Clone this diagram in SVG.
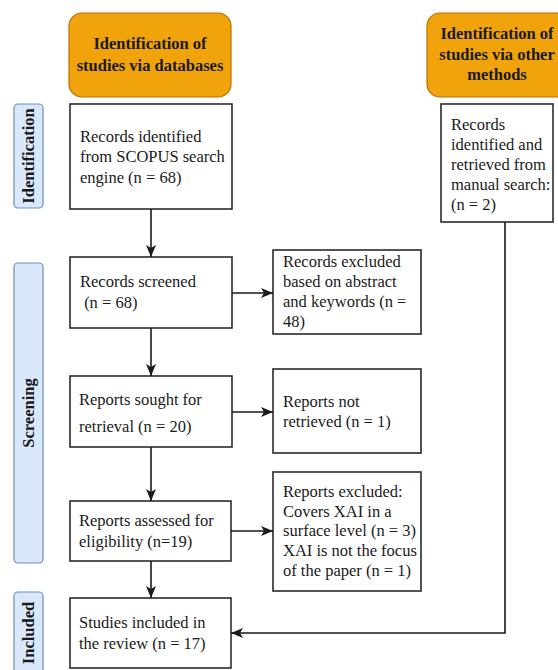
<svg xmlns="http://www.w3.org/2000/svg" width="558" height="670" viewBox="0 0 558 670">
<defs>
<style>
.hdr{fill:#F0A30A;stroke:#BD7000;stroke-width:1.2}
.lbl{fill:#DAE8FC;stroke:#6C8EBF;stroke-width:1.2}
.box{fill:#FFFFFF;stroke:#2B2B2B;stroke-width:1.6}
text{font-family:'Liberation Serif','Times New Roman','DejaVu Serif',serif;font-size:16.5px;fill:#1a1a1a}
.b{font-weight:bold}
.c{fill:none;stroke:#1a1a1a;stroke-width:1.6}
</style>
<marker id="arr" viewBox="0 0 12 10" refX="12" refY="5" markerWidth="12" markerHeight="10" markerUnits="userSpaceOnUse" orient="auto">
<path d="M0,0 L12,5 L0,10 L3,5 Z" fill="#1a1a1a"/>
</marker>
</defs>
<rect width="558" height="670" fill="#FFFFFF"/>

<g id="hdr-db">
<rect class="hdr" x="69" y="13" width="162" height="84" rx="13"/>
<text class="b" x="150" y="49" text-anchor="middle" font-family="Liberation Serif, serif">Identification of</text>
<text class="b" x="150" y="71" text-anchor="middle" font-family="Liberation Serif, serif">studies via databases</text>
</g>
<g id="hdr-other">
<rect class="hdr" x="427" y="13" width="142" height="84" rx="13"/>
<text class="b" x="497" y="39" text-anchor="middle">Identification of</text>
<text class="b" x="497" y="60" text-anchor="middle">studies via other</text>
<text class="b" x="497" y="80" text-anchor="middle">methods</text>
</g>

<g id="lbl-identification">
<rect class="lbl" x="14" y="104" width="29" height="104" rx="4"/>
<text class="b" transform="translate(34,156) rotate(-90)" text-anchor="middle">Identification</text>
</g>
<g id="lbl-screening">
<rect class="lbl" x="14" y="263" width="29" height="300" rx="4"/>
<text class="b" transform="translate(34,413) rotate(-90)" text-anchor="middle">Screening</text>
</g>
<g id="lbl-included">
<rect class="lbl" x="14" y="592" width="29" height="90" rx="4"/>
<text class="b" transform="translate(34,633) rotate(-90)" text-anchor="middle">Included</text>
</g>

<g id="n-records-identified">
<rect class="box" x="70" y="104" width="162" height="105"/>
<text x="80" y="142">Records identified</text>
<text x="80" y="162">from SCOPUS search</text>
<text x="80" y="183">engine (n = 68)</text>
</g>
<g id="n-records-screened">
<rect class="box" x="70" y="257" width="162" height="71"/>
<text x="80" y="287">Records screened</text>
<text x="80" y="308" xml:space="preserve"> (n = 68)</text>
</g>
<g id="n-reports-sought">
<rect class="box" x="70" y="376" width="162" height="71"/>
<text x="79" y="405">Reports sought for</text>
<text x="79" y="432">retrieval (n = 20)</text>
</g>
<g id="n-reports-assessed">
<rect class="box" x="70" y="501" width="161" height="60"/>
<text x="79" y="526">Reports assessed for</text>
<text x="79" y="547">eligibility (n=19)</text>
</g>
<g id="n-studies-included">
<rect class="box" x="70" y="598" width="161" height="70"/>
<text x="79" y="628">Studies included in</text>
<text x="79" y="649">the review (n = 17)</text>
</g>
<g id="n-records-excluded">
<rect class="box" x="273" y="250" width="148" height="84"/>
<text x="283" y="267">Records excluded</text>
<text x="283" y="287">based on abstract</text>
<text x="283" y="307">and keywords (n =</text>
<text x="283" y="327">48)</text>
</g>
<g id="n-reports-not-retrieved">
<rect class="box" x="273" y="369" width="148" height="84"/>
<text x="283" y="407">Reports not</text>
<text x="283" y="427">retrieved (n = 1)</text>
</g>
<g id="n-reports-excluded">
<rect class="box" x="273" y="472" width="148" height="119"/>
<text x="283" y="497">Reports excluded:</text>
<text x="283" y="517">Covers XAI in a</text>
<text x="283" y="536">surface level (n = 3)</text>
<text x="283" y="556">XAI is not the focus</text>
<text x="283" y="576">of the paper (n = 1)</text>
</g>
<g id="n-manual">
<rect class="box" x="441" y="104" width="112" height="118"/>
<text x="451" y="130">Records</text>
<text x="451" y="150">identified and</text>
<text x="451" y="170">retrieved from</text>
<text x="451" y="190">manual search:</text>
<text x="451" y="210">(n = 2)</text>
</g>

<g id="connectors">
<path class="c" d="M151,209 V257" marker-end="url(#arr)"/>
<path class="c" d="M151,328 V376" marker-end="url(#arr)"/>
<path class="c" d="M151,447 V501" marker-end="url(#arr)"/>
<path class="c" d="M151,561 V598" marker-end="url(#arr)"/>
<path class="c" d="M232,293 H273" marker-end="url(#arr)"/>
<path class="c" d="M232,412 H273" marker-end="url(#arr)"/>
<path class="c" d="M231,531 H273" marker-end="url(#arr)"/>
<path class="c" d="M505,222 V633 H231" marker-end="url(#arr)"/>
</g>
</svg>
